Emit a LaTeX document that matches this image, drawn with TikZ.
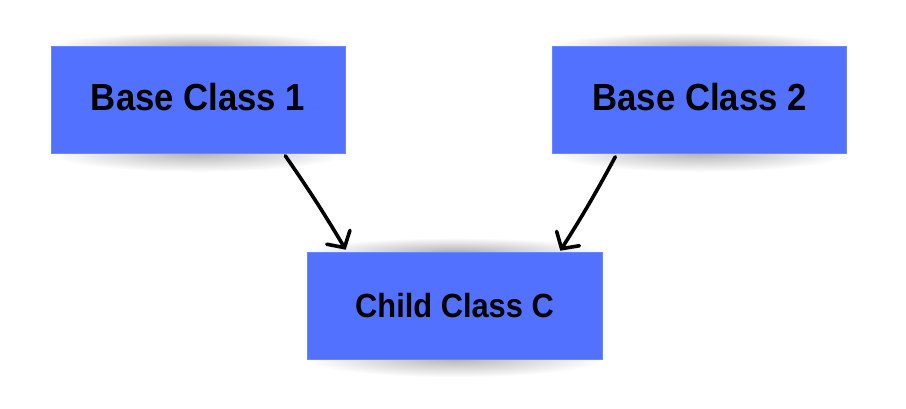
\documentclass[tikz,border=0pt]{standalone}
\usepackage{fontspec}
\newfontfamily\boxfont{Liberation Sans}[FakeStretch=0.92]
\usetikzlibrary{positioning, arrows.meta, backgrounds}
\definecolor{classblue}{RGB}{82,113,255}

\begin{document}
\begin{tikzpicture}[
        x=1pt, y=-1pt,
        classbox/.style={
                rectangle,
                fill=classblue,
                draw=classblue!85!white,
                line width=0.6pt,
                inner sep=0pt,
                minimum width=294pt,
                minimum height=107pt,
                text depth=6pt,
                font=\boxfont\bfseries\fontsize{37.7}{40}\selectfont
            },
        glow/.style = {inner color=black!30, outer color=white},
        link/.style = {
                line width=3.6pt,
                line cap=round,
                -{Straight Barb[length=12pt, width=27pt, line cap=round]}
            }
    ]
    \useasboundingbox (0,0) rectangle (906,409);

    \node[classbox] (base1) at (198,100) {Base Class 1};
    \node[classbox] (base2) [right=207pt of base1] {Base Class 2};
    \node[classbox, minimum width=295pt, text depth=0pt, font=\boxfont\bfseries\fontsize{33.5}{36}\selectfont] (child) at (454.5,305.5) {Child Class C};

    % soft shadows above and below every box
    \begin{scope}[on background layer]
        \foreach \n in {base1, base2, child} {
            \shade[glow] (\n.north) ellipse [x radius=150pt, y radius=14pt];
            \shade[glow] ([yshift=1pt]\n.south) ellipse [x radius=150pt, y radius=19pt];
        }
    \end{scope}

    \draw[link] ([xshift=-60pt, yshift=-2pt]base1.south east) to[bend left=2] ([xshift=39pt, yshift=2pt]child.north west);
    \draw[link] ([xshift=63pt, yshift=-3pt]base2.south west) to[bend left=2] ([xshift=-42pt, yshift=1pt]child.north east);
\end{tikzpicture}
\end{document}
